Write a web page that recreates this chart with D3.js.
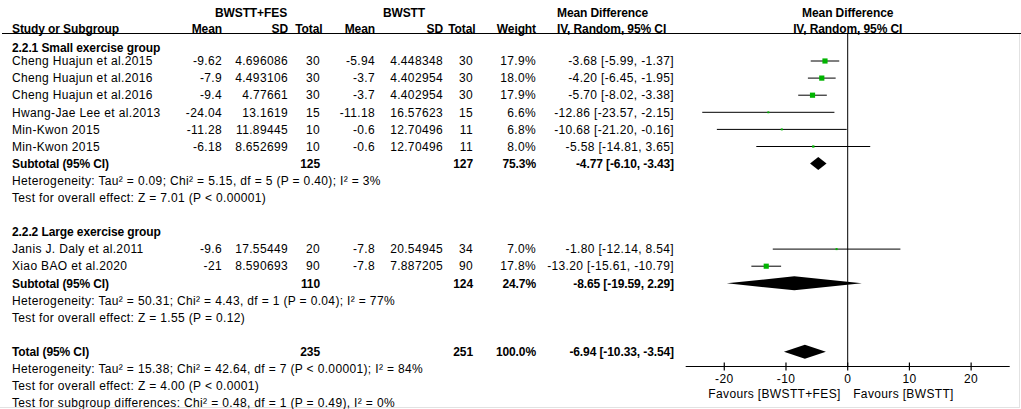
<!DOCTYPE html>
<html>
<head>
<meta charset="utf-8">
<script src="https://cdn.jsdelivr.net/npm/d3@7"></script>
<style>
  body { margin: 0; background: #fff; }
  text { font-family: "Liberation Sans", Arial, sans-serif; font-size: 12px; fill: #000; letter-spacing: 0.35px; }
  .b { font-weight: bold; letter-spacing: -0.1px; }
</style>
</head>
<body>
<div id="chart"></div>
<script>
var W = 1021, H = 409;

// study data
var studies = ["Cheng Huajun et al.2015", "Cheng Huajun et al.2016", "Cheng Huajun et al.2016",
  "Hwang-Jae Lee et al.2013", "Min-Kwon 2015", "Min-Kwon 2015",
  "Janis J. Daly et al.2011", "Xiao BAO et al.2020"];
var studyGroup = [1, 1, 1, 1, 1, 1, 2, 2];
var feMean = ["-9.62", "-7.9", "-9.4", "-24.04", "-11.28", "-6.18", "-9.6", "-21"];
var feSD = ["4.696086", "4.493106", "4.77661", "13.1619", "11.89445", "8.652699", "17.55449", "8.590693"];
var feN = [30, 30, 30, 15, 10, 10, 20, 90];
var ctMean = ["-5.94", "-3.7", "-3.7", "-11.18", "-0.6", "-0.6", "-7.8", "-7.8"];
var ctSD = ["4.448348", "4.402954", "4.402954", "16.57623", "12.70496", "12.70496", "20.54945", "7.887205"];
var ctN = [30, 30, 30, 15, 11, 11, 34, 90];
var weight = [17.9, 18.0, 17.9, 6.6, 6.8, 8.0, 7.0, 17.8];
var md = [-3.68, -4.20, -5.70, -12.86, -10.68, -5.58, -1.80, -13.20];
var mdLo = [-5.99, -6.45, -8.02, -23.57, -21.20, -14.81, -12.14, -15.61];
var mdHi = [-1.37, -1.95, -3.38, -2.15, -0.16, 3.65, 8.54, -10.79];

// pooled estimates: subgroup 1, subgroup 2, overall
var poolLabel = ["Subtotal (95% CI)", "Subtotal (95% CI)", "Total (95% CI)"];
var poolFeN = [125, 110, 235];
var poolCtN = [127, 124, 251];
var poolWeight = ["75.3%", "24.7%", "100.0%"];
var poolMd = [-4.77, -8.65, -6.94];
var poolLo = [-6.10, -19.59, -10.33];
var poolHi = [-3.43, 2.29, -3.54];

var groupTitles = ["2.2.1 Small exercise group", "2.2.2 Large exercise group"];
var notes = [
  ["Heterogeneity: Tau\u00b2 = 0.09; Chi\u00b2 = 5.15, df = 5 (P = 0.40); I\u00b2 = 3%",
   "Test for overall effect: Z = 7.01 (P < 0.00001)"],
  ["Heterogeneity: Tau\u00b2 = 50.31; Chi\u00b2 = 4.43, df = 1 (P = 0.04); I\u00b2 = 77%",
   "Test for overall effect: Z = 1.55 (P = 0.12)"],
  ["Heterogeneity: Tau\u00b2 = 15.38; Chi\u00b2 = 42.64, df = 7 (P < 0.00001); I\u00b2 = 84%",
   "Test for overall effect: Z = 4.00 (P < 0.0001)",
   "Test for subgroup differences: Chi\u00b2 = 0.48, df = 1 (P = 0.49), I\u00b2 = 0%"]
];

var ticks = [-20, -10, 0, 10, 20];
var favourLeft = "Favours [BWSTT+FES]", favourRight = "Favours [BWSTT]";

// build row layout
var rows = [];
var k = 2.2;
[1, 2].forEach(function (g, gi) {
  rows.push({ type: "group", k: k, text: groupTitles[gi] });
  k = Math.round(k) + 1;
  studies.forEach(function (s, i) {
    if (studyGroup[i] === g) { rows.push({ type: "study", k: k, i: i }); k++; }
  });
  rows.push({ type: "pool", k: k, i: gi }); k++;
  notes[gi].forEach(function (t) { rows.push({ type: "note", k: k, text: t }); k++; });
  k++;
});
rows.push({ type: "pool", k: k, i: 2 }); k++;
notes[2].forEach(function (t) { rows.push({ type: "note", k: k, text: t }); k++; });

var y = d3.scaleLinear().domain([3, 23]).range([61, 403]);
var x = d3.scaleLinear().domain([-26.25, 26.25]).range([685.7, 1009.7]);
var sq = d3.scaleLinear().domain([0, 18]).range([0, 5.2]);

var svg = d3.select("#chart").append("svg").attr("width", W).attr("height", H);

// frame
svg.append("line").attr("x1", 1019.5).attr("x2", 1019.5).attr("y1", 34).attr("y2", 407.5)
  .attr("stroke", "#e2e2e2");
svg.append("line").attr("x1", 0).attr("x2", 1020).attr("y1", 407.5).attr("y2", 407.5)
  .attr("stroke", "#e2e2e2");

var col = { feMean: 222, feSD: 288, feN: 320, ctMean: 375, ctSD: 443, ctN: 473, w: 536, ci: 674 };

function txt(xp, yp, s, anchor, bold) {
  return svg.append("text").attr("x", xp).attr("y", yp).attr("dy", "0.35em")
    .attr("text-anchor", anchor || "start").attr("class", bold ? "b" : null).text(s);
}

// headers
var h1 = 12.7, h2 = 29;
txt(251, h1, "BWSTT+FES", "middle", true);
txt(404, h1, "BWSTT", "middle", true);
txt(557, h1, "Mean Difference", "start", true);
txt(x(0), h1, "Mean Difference", "middle", true);
txt(12, h2, "Study or Subgroup", "start", true);
txt(col.feMean, h2, "Mean", "end", true);
txt(col.feSD, h2, "SD", "end", true);
txt(col.feN + 2.5, h2, "Total", "end", true);
txt(col.ctMean, h2, "Mean", "end", true);
txt(col.ctSD, h2, "SD", "end", true);
txt(col.ctN + 2.5, h2, "Total", "end", true);
txt(col.w, h2, "Weight", "end", true);
txt(557, h2, "IV, Random, 95% CI", "start", true);
txt(x(0), h2, "IV, Random, 95% CI", "middle", true);

svg.append("line").attr("x1", 2).attr("x2", 1021).attr("y1", 33.5).attr("y2", 33.5)
  .attr("stroke", "#000");

// zero line
var axisY = 366.5;
svg.append("line").attr("x1", x(0)).attr("x2", x(0)).attr("y1", 34).attr("y2", axisY)
  .attr("stroke", "#000");

function ciText(m, lo, hi) {
  return m.toFixed(2) + " [" + lo.toFixed(2) + ", " + hi.toFixed(2) + "]";
}

rows.forEach(function (r) {
  var yy = y(r.k);
  if (r.type === "group") {
    txt(12, yy, r.text, "start", true);
  } else if (r.type === "note") {
    txt(12, yy, r.text, "start", false);
  } else if (r.type === "study") {
    var i = r.i;
    txt(12, yy, studies[i]);
    txt(col.feMean, yy, feMean[i], "end");
    txt(col.feSD, yy, feSD[i], "end");
    txt(col.feN, yy, feN[i], "end");
    txt(col.ctMean, yy, ctMean[i], "end");
    txt(col.ctSD, yy, ctSD[i], "end");
    txt(col.ctN, yy, ctN[i], "end");
    txt(col.w, yy, weight[i].toFixed(1) + "%", "end");
    txt(col.ci, yy, ciText(md[i], mdLo[i], mdHi[i]), "end");
    svg.append("line").attr("x1", x(mdLo[i])).attr("x2", x(mdHi[i]))
      .attr("y1", yy).attr("y2", yy).attr("stroke", "#000").attr("stroke-width", 1);
    var s = sq(weight[i]);
    svg.append("rect").attr("x", x(md[i]) - s / 2).attr("y", yy - s / 2)
      .attr("width", s).attr("height", s).attr("fill", "#00b400");
  } else if (r.type === "pool") {
    var j = r.i;
    txt(12, yy, poolLabel[j], "start", true);
    txt(col.feN, yy, poolFeN[j], "end", true);
    txt(col.ctN, yy, poolCtN[j], "end", true);
    txt(col.w, yy, poolWeight[j], "end", true);
    txt(col.ci, yy, ciText(poolMd[j], poolLo[j], poolHi[j]), "end", true);
    var dh = j === 0 ? 6.5 : 7;
    var pts = [[x(poolLo[j]), yy], [x(poolMd[j]), yy - dh], [x(poolHi[j]), yy], [x(poolMd[j]), yy + dh]];
    svg.append("path").attr("d", "M" + pts.join("L") + "Z").attr("fill", "#000");
  }
});

// axis
var axis = svg.append("g");
axis.append("line").attr("x1", x.range()[0]).attr("x2", x.range()[1])
  .attr("y1", axisY).attr("y2", axisY).attr("stroke", "#000").attr("stroke-width", 1.2);
axis.selectAll(".tk").data(ticks).enter().append("line")
  .attr("x1", function (d) { return x(d); }).attr("x2", function (d) { return x(d); })
  .attr("y1", axisY - 4).attr("y2", axisY + 4).attr("stroke", "#000").attr("stroke-width", 1.2);
axis.selectAll(".tl").data(ticks).enter().append("text")
  .attr("x", function (d) { return x(d); }).attr("y", 378.5).attr("dy", "0.35em")
  .attr("text-anchor", "middle").text(function (d) { return d; });
txt(x(0) - 7, 393.5, favourLeft, "end");
txt(x(0) + 5.5, 393.5, favourRight, "start");
</script>
</body>
</html>
